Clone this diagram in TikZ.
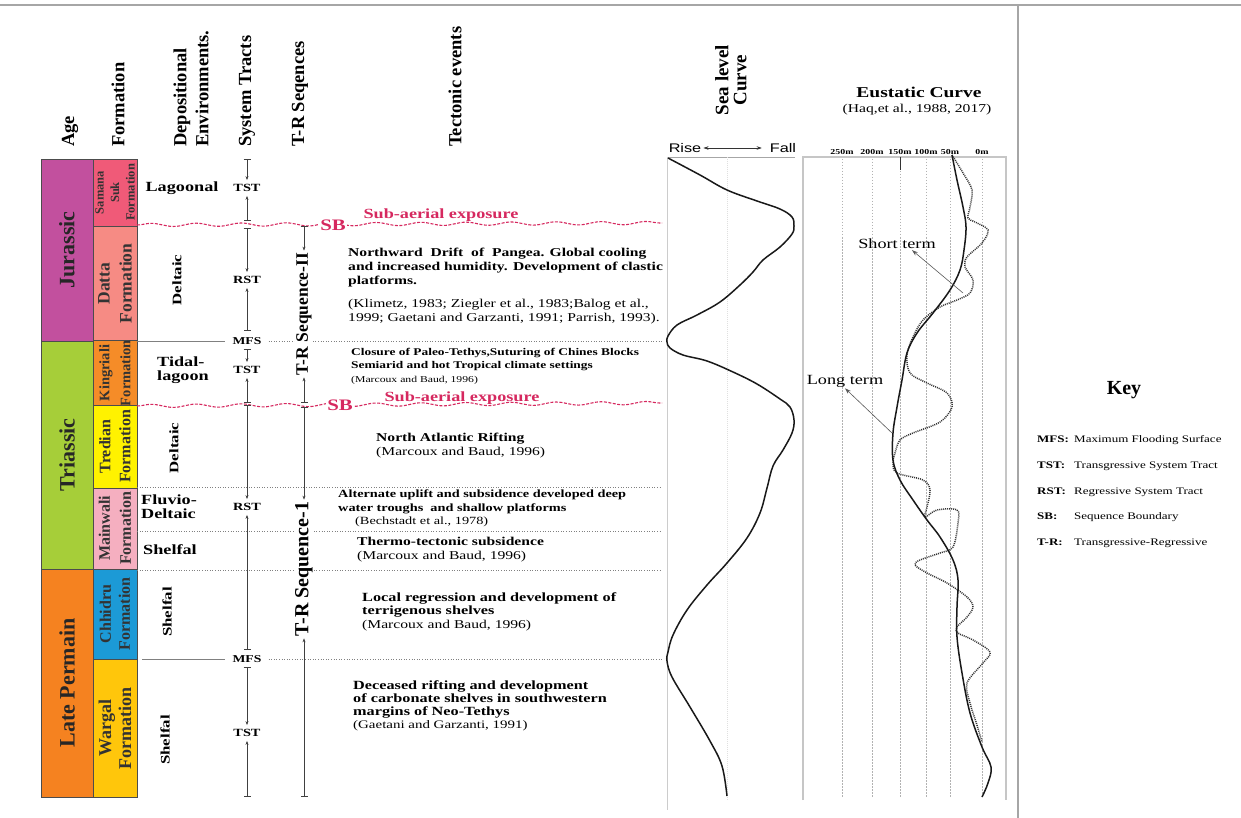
\documentclass[tikz,border=0pt]{standalone}
\usepackage{fontspec}
\setmainfont{Liberation Serif}[FakeStretch=1.3]
\newfontfamily\headfont{Liberation Serif}
\newfontfamily\risefont{Liberation Sans}[FakeStretch=1.3]
\usetikzlibrary{arrows.meta, positioning, decorations.pathmorphing}
\definecolor{jurcol}{RGB}{194,80,158}
\definecolor{triacol}{RGB}{166,206,57}
\definecolor{permcol}{RGB}{245,130,32}
\definecolor{samcol}{RGB}{240,90,120}
\definecolor{datcol}{RGB}{246,139,132}
\definecolor{kngcol}{RGB}{245,140,40}
\definecolor{trdcol}{RGB}{255,242,0}
\definecolor{mnwcol}{RGB}{245,175,192}
\definecolor{chhcol}{RGB}{28,154,214}
\definecolor{wrgcol}{RGB}{255,198,11}
\definecolor{sbred}{RGB}{214,40,95}
\newcommand{\fs}[2]{\fontsize{#1}{#2}\selectfont}
\tikzstyle{head} = [rotate=90, anchor=west, inner sep=0pt, align=left, font=\headfont\bfseries\fs{18.5}{22}]
\tikzstyle{agebox} = [rotate=90, draw=black!70, inner sep=0pt, minimum height=52pt, text=black!85, font=\headfont\bfseries\fs{22}{24}]
\tikzstyle{fmbox} = [rotate=90, draw=black!70, inner sep=0pt, minimum height=44pt, align=center, text=black!80]
\tikzstyle{env} = [inner sep=0pt, align=left, font=\bfseries\fs{14}{14}]
\tikzstyle{envr} = [rotate=90, inner sep=0pt, font=\bfseries\fs{13}{14}]
\tikzstyle{tract} = [inner xsep=1pt, inner ysep=4pt, font=\bfseries\fs{11}{12}]
\tikzstyle{mfs} = [inner xsep=7pt, inner ysep=2pt, font=\bfseries\fs{10.5}{12}]
\tikzstyle{tarrow} = [black!75, line width=0.6pt, {Bar[width=7pt]}-{Stealth[length=4pt,width=3pt]}]
\tikzstyle{trlab} = [rotate=90, fill=white, inner xsep=2pt, inner ysep=1pt, font=\headfont\bfseries]
\tikzstyle{dotln} = [gray, line width=0.8pt, dash pattern=on 1pt off 1.6pt]
\tikzstyle{solidln} = [gray, line width=1pt]
\tikzstyle{sbline} = [sbred, line width=1.1pt, dash pattern=on 3pt off 1.5pt, decorate, decoration={snake, segment length=45pt, amplitude=1.6pt}]
\tikzstyle{sbtext} = [text=sbred, inner sep=1pt, font=\bfseries\fs{14}{14}]
\tikzstyle{evt} = [anchor=north west, align=left, inner sep=0pt]
\tikzstyle{curve} = [line width=1.5pt, black!90]
\tikzstyle{shortc} = [line width=1.5pt, black!80, dash pattern=on 1pt off 1pt]
\tikzstyle{gridln} = [gray!60, line width=0.6pt, dash pattern=on 1.5pt off 1.5pt]
\tikzstyle{axlab} = [inner sep=0pt, font=\bfseries\fs{7.6}{8}]
\tikzstyle{lblarrow} = [black!65, line width=0.6pt, -{Stealth[length=6pt,width=4pt]}]
\tikzstyle{keyline} = [anchor=west, inner sep=0pt, font=\fs{10}{12}]

\begin{document}
\begin{tikzpicture}[x=1pt, y=-1pt]
\useasboundingbox (0,0) rectangle (1241,818);
\fill[white] (0,0) rectangle (1241,818);
\draw[gray!70, line width=1.2pt] (0,5) -- (1241,5);
\draw[gray!70, line width=1.2pt] (1018,5) -- (1018,818);

\node[head] (hage) at (70,147) {Age};
\node[head] (hform) at (118,147) {Formation};
\node[head] (hdep) at (191,147) {Depositional\\Environments.};
\node[head] (hst) at (247,147) {System Tracts};
\node[head] (htr) at (300,147) {T-R Seqences};
\node[head] (htec) at (455,147) {Tectonic events};

\node[agebox, fill=jurcol, minimum width=182pt] (jur) at (67,250) {Jurassic};
\node[agebox, fill=triacol, minimum width=228pt] (tri) at (67,455) {Triassic};
\node[agebox, fill=permcol, minimum width=228pt] (perm) at (67,683) {Late Permain};

\node[fmbox, fill=samcol, minimum width=67pt, font=\headfont\bfseries\fs{12.5}{15.5}] (sam) at (115,192.5) {Samana\\Suk\\Formation};
\node[fmbox, fill=datcol, minimum width=115pt, font=\headfont\bfseries\fs{17.5}{22}] (dat) at (115,283.5) {Datta\\Formation};
\node[fmbox, fill=kngcol, minimum width=64pt, font=\headfont\bfseries\fs{14.5}{21}] (kng) at (115,373) {Kingriali\\Formation};
\node[fmbox, fill=trdcol, minimum width=83pt, font=\headfont\bfseries\fs{16}{20}] (trd) at (115,446.5) {Tredian\\Formation};
\node[fmbox, fill=mnwcol, minimum width=81pt, font=\headfont\bfseries\fs{16}{21}] (mnw) at (115,528.5) {Mainwali\\Formation};
\node[fmbox, fill=chhcol, minimum width=90pt, font=\headfont\bfseries\fs{16}{19}] (chh) at (115,614) {Chhidru\\Formation};
\node[fmbox, fill=wrgcol, minimum width=138pt, font=\headfont\bfseries\fs{18}{20}] (wrg) at (115,728) {Wargal\\Formation};

\node[env] (lag) at (182,188) {Lagoonal};
\node[envr] (del1) at (177,280) {Deltaic};
\node[env] (tid) at (183,370) {Tidal-\\lagoon};
\node[envr] (del2) at (174,448) {Deltaic};
\node[env, anchor=west] (flu) at (141,507) {Fluvio-\\Deltaic};
\node[env, anchor=west] (shf1) at (143,550) {Shelfal};
\node[envr] (shf2) at (167,612) {Shelfal};
\node[envr] (shf3) at (165,740) {Shelfal};

\node[mfs] (mfs1) at (247,341) {MFS};
\node[mfs] (mfs2) at (247,659) {MFS};
\coordinate (m1l) at (137,341);
\coordinate (m1r) at (662,341);
\coordinate (m2l) at (142,659);
\coordinate (m2r) at (662,659);
\draw[solidln] (m1l) -- (mfs1.west);
\draw[dotln] (mfs1.east) -- (m1r);
\draw[solidln] (m2l) -- (mfs2.west);
\draw[dotln] (mfs2.east) -- (m2r);
\foreach \yy/\nm in {487/a, 531/b, 570/c} {
  \coordinate (d\nm l) at (137,\yy);
  \coordinate (d\nm r) at (662,\yy);
  \draw[dotln] (d\nm l) -- (d\nm r);
}

\coordinate (sb1l) at (137,225);
\coordinate (sb1r) at (662,223);
\coordinate (sb2l) at (137,406);
\coordinate (sb2r) at (662,403);
\draw[sbline] (sb1l) -- (sb1r);
\draw[sbline] (sb2l) -- (sb2r);
\node[sbtext, fill=white, font=\bfseries\fs{16}{16}] (sb1) at (333,225) {SB};
\node[sbtext] (sae1) at (441,215) {Sub-aerial exposure};
\node[sbtext, fill=white, font=\bfseries\fs{16}{16}] (sb2) at (340,405) {SB};
\node[sbtext] (sae2) at (462,398) {Sub-aerial exposure};

\node[tract] (tst1) at (247,188) {TST};
\node[tract] (rst1) at (247,280) {RST};
\node[tract] (tst2) at (247,370) {TST};
\node[tract] (rst2) at (247,507) {RST};
\node[tract] (tst3) at (247,733) {TST};
\coordinate (t1a) at (247,159);
\coordinate (t1b) at (247,221);
\coordinate (r1a) at (247,228);
\coordinate (r1b) at (247,331);
\coordinate (t2a) at (247,349);
\coordinate (t2b) at (247,403);
\coordinate (r2a) at (247,405);
\coordinate (r2b) at (247,650);
\coordinate (t3a) at (247,667);
\coordinate (t3b) at (247,797);
\draw[tarrow] (t1a) -- (tst1);
\draw[tarrow] (t1b) -- (tst1);
\draw[tarrow] (r1a) -- (rst1);
\draw[tarrow] (r1b) -- (rst1);
\draw[tarrow] (t2a) -- (tst2);
\draw[tarrow] (t2b) -- (tst2);
\draw[tarrow] (r2a) -- (rst2);
\draw[tarrow] (r2b) -- (rst2);
\draw[tarrow] (t3a) -- (tst3);
\draw[tarrow] (t3b) -- (tst3);

\node[trlab, font=\headfont\bfseries\fs{17.5}{18}] (seq2) at (304,314) {T-R Sequence-II};
\node[trlab, font=\headfont\bfseries\fs{20}{20}] (seq1) at (304,569) {T-R Sequence-1};
\coordinate (q2a) at (304,226);
\coordinate (q2b) at (304,403);
\coordinate (q1a) at (304,407);
\coordinate (q1b) at (304,797);
\draw[tarrow] (q2a) -- (seq2);
\draw[tarrow] (q2b) -- (seq2);
\draw[tarrow] (q1a) -- (seq1);
\draw[tarrow] (q1b) -- (seq1);

\node[evt, font=\fs{12}{14}] (ev1) at (348,248) {\textbf{Northward\ \ Drift\ \ of\ \ Pangea. Global cooling}\\\textbf{and increased humidity. Development of clastic}\\\textbf{platforms.}\\[9pt](Klimetz, 1983; Ziegler et al., 1983;Balog et al.,\\1999; Gaetani and Garzanti, 1991; Parrish, 1993).};
\node[evt, font=\fs{10.3}{13.5}] (ev2) at (351,348) {\textbf{Closure of Paleo-Tethys,Suturing of Chines Blocks}\\\textbf{Semiarid and hot Tropical climate settings}\\{\fs{9}{13.5}(Marcoux and Baud, 1996)}};
\node[evt, font=\fs{12}{13.5}] (ev3) at (376,433) {\textbf{North Atlantic Rifting}\\(Marcoux and Baud, 1996)};
\node[evt, font=\fs{11}{13.5}] (ev4) at (338,490) {\textbf{Alternate uplift and subsidence developed deep}\\\textbf{water troughs\ \ and shallow platforms}\\\hspace*{17pt}(Bechstadt et al., 1978)};
\node[evt, font=\fs{12}{13.5}] (ev5) at (357,537) {\textbf{Thermo-tectonic subsidence}\\(Marcoux and Baud, 1996)};
\node[evt, font=\fs{12.5}{13.5}] (ev6) at (362,592) {\textbf{Local regression and development of}\\\textbf{terrigenous shelves}\\{\fs{12}{13.5}(Marcoux and Baud, 1996)}};
\node[evt, font=\fs{12.5}{13.3}] (ev7) at (353,680) {\textbf{Deceased rifting and development}\\\textbf{of carbonate shelves in southwestern}\\\textbf{margins of Neo-Tethys}\\{\fs{11.5}{13.3}(Gaetani and Garzanti, 1991)}};

\node[rotate=90, align=center, inner sep=0pt, font=\headfont\bfseries\fs{19}{18}] (hsea) at (731,80) {Sea level\\Curve};
\node[inner sep=1pt, font=\risefont\fs{12.5}{14}] (rise) at (685,148) {Rise};
\node[inner sep=1pt, font=\risefont\fs{12.5}{14}] (fall) at (783,148) {Fall};
\draw[black!80, line width=0.6pt, {Stealth[length=5pt,width=3.5pt]}-{Stealth[length=5pt,width=3.5pt]}, shorten <=1pt, shorten >=7pt] (rise) -- (fall);
\coordinate (slt) at (667,157);
\coordinate (slr) at (795,157);
\coordinate (slb) at (667,810);
\coordinate (slmt) at (727,157);
\coordinate (slmb) at (727,800);
\draw[gray!70, line width=0.8pt] (slt) -- (slr);
\draw[gray!40, line width=1pt] (slt) -- (slb);
\draw[gray!25, line width=0.6pt, dash pattern=on 1pt off 1pt] (slmt) -- (slmb);
\draw[curve] plot[smooth, tension=0.6] coordinates {(668,158) (700,175) (727,190) (757,201) (780,209) (792,217) (794,226) (792,234) (780,247) (763,260) (753,272) (740,285) (720,302) (697,315) (677,325) (668,336) (667,342) (670,348) (683,355) (707,361) (733,372) (757,384) (780,399) (790,407) (794,420) (792,433) (783,450) (773,466) (767,488) (760,513) (747,538) (727,563) (707,585) (687,610) (673,635) (668,652) (667,661) (672,677) (690,707) (710,741) (722,766) (727,796)};

\node[inner sep=0pt, font=\bfseries\fs{15}{16}] (heus) at (919,92) {Eustatic Curve};
\node[inner sep=0pt, font=\fs{12}{14}] (hhaq) at (917,110) {(Haq,et al., 1988, 2017)};
\draw[gray!45, line width=1.2pt] (803,800) -- (803,157) -- (1006,157) -- (1006,800);
\foreach \xx/\lab in {842/250m, 872/200m, 900/150m, 926/100m, 950/50m, 982/0m} {
  \draw[gridln] (\xx,159) -- (\xx,798);
  \node[axlab] (ax\lab) at (\xx,152) {\lab};
}
\draw[black!80, line width=0.8pt] (900,157) -- (900,170);
\draw[shortc] plot[smooth, tension=0.55] coordinates {(952,155) (963,173) (972,190) (970,207) (968,218) (975,222) (988,230) (982,243) (967,257) (965,267) (973,280) (970,293) (957,300) (940,307) (923,320) (913,337) (907,355) (910,373) (927,383) (947,393) (952,407) (940,422) (913,433) (900,440) (895,453) (893,463) (897,473) (923,480) (930,490) (927,507) (925,517) (937,510) (957,510) (958,523) (953,547) (940,553) (920,560) (915,565) (927,573) (947,583) (967,597) (973,607) (967,617) (957,627) (958,633) (973,640) (990,652) (983,663) (967,683) (970,703) (976,722) (982,742)};
\draw[curve] plot[smooth, tension=0.6] coordinates {(952,155) (957,180) (963,207) (966,227) (964,250) (960,270) (950,290) (933,313) (917,333) (907,353) (902,380) (897,407) (893,433) (893,460) (900,480) (913,500) (927,520) (940,537) (953,560) (958,580) (957,607) (957,637) (962,673) (970,713) (982,747) (991,767) (988,783) (982,797)};
\node[inner sep=1pt, font=\fs{14}{16}] (short) at (897,244) {Short term};
\node[inner sep=1pt, font=\fs{14}{16}] (long) at (845,381) {Long term};
\coordinate (stp) at (963,293);
\coordinate (ltp) at (892,433);
\draw[lblarrow] (stp) -- ([xshift=15pt]short.south);
\draw[lblarrow] (ltp) -- (long.south);

\node[inner sep=0pt, font=\headfont\bfseries\fs{20}{22}] (key) at (1124,390) {Key};
\node[keyline] (kmfs) at (1037,440) {\makebox[37pt][l]{\textbf{MFS:}}Maximum Flooding Surface};
\node[keyline] (ktst) at (1037,466) {\makebox[37pt][l]{\textbf{TST:}}Transgressive System Tract};
\node[keyline] (krst) at (1037,492) {\makebox[37pt][l]{\textbf{RST:}}Regressive System Tract};
\node[keyline] (ksb) at (1037,517) {\makebox[37pt][l]{\textbf{SB:}}Sequence Boundary};
\node[keyline] (ktr) at (1037,543) {\makebox[37pt][l]{\textbf{T-R:}}Transgressive-Regressive};
\end{tikzpicture}
\end{document}
